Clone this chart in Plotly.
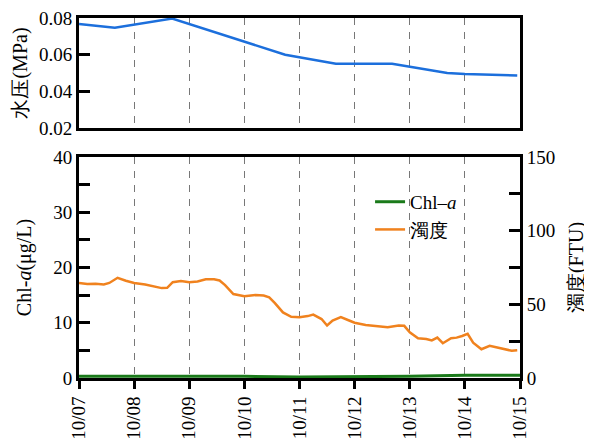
import plotly.graph_objects as go

# ---- data ----
tick_labels = ["10/07", "10/08", "10/09", "10/10", "10/11", "10/12", "10/13", "10/14", "10/15"]
tick_days = [0, 1, 2, 3, 4, 5, 6, 7, 8]

pressure_days = [0.0, 0.65, 1.69, 2.7, 3.74, 4.66, 5.68, 6.68, 7.0, 7.95]
pressure_mpa = [0.0767, 0.0747, 0.0797, 0.0700, 0.0600, 0.0550, 0.0550, 0.0500, 0.0495, 0.0487]

turb_days = [0.0, 0.15, 0.3, 0.45, 0.55, 0.7, 0.85, 1.0, 1.2, 1.4, 1.5, 1.6, 1.7, 1.85, 2.0, 2.15,
             2.3, 2.45, 2.55, 2.65, 2.8, 3.0, 3.2, 3.35, 3.45, 3.55, 3.7, 3.85, 4.0, 4.15, 4.25,
             4.4, 4.5, 4.6, 4.75, 4.9, 5.0, 5.2, 5.4, 5.6, 5.8, 5.9, 6.0, 6.15, 6.3, 6.4, 6.5,
             6.6, 6.75, 6.85, 6.95, 7.05, 7.15, 7.3, 7.45, 7.6, 7.75, 7.85, 7.95]
turb_ftu = [64.5, 63.8, 63.9, 63.5, 64.5, 68.0, 66.0, 64.5, 63.5, 62.0, 61.0, 61.2, 65.0, 65.8, 65.0, 65.5,
            67.0, 67.0, 66.2, 63.0, 57.0, 55.5, 56.3, 56.0, 54.8, 51.0, 44.5, 41.5, 41.3, 42.0, 43.0,
            40.0, 35.6, 39.0, 41.3, 39.0, 37.5, 36.0, 35.0, 34.5, 35.6, 35.4, 31.0, 27.0, 26.5, 25.5, 27.4,
            23.6, 27.0, 27.4, 28.5, 30.0, 24.0, 19.5, 21.8, 20.5, 19.5, 18.5, 18.8]

chl_days = [0.0, 1.0, 2.0, 3.0, 4.0, 5.0, 6.0, 7.0, 8.0]
chl_ugl = [0.3, 0.3, 0.4, 0.3, 0.2, 0.2, 0.3, 0.5, 0.5]

# ---- styling ----
BLUE = "#1c6fdc"
ORANGE = "#f0821e"
GREEN = "#1a7a1a"
FONT = "Liberation Serif"
FS = 19
TFS = 20

fig = go.Figure()
fig.add_trace(go.Scatter(x=pressure_days, y=pressure_mpa, mode="lines", xaxis="x2", yaxis="y3",
                         line=dict(color=BLUE, width=2.5), showlegend=False))
fig.add_trace(go.Scatter(x=chl_days, y=chl_ugl, mode="lines", xaxis="x", yaxis="y",
                         line=dict(color=GREEN, width=3), name="Chl–<i>a</i>"))
fig.add_trace(go.Scatter(x=turb_days, y=turb_ftu, mode="lines", xaxis="x", yaxis="y2",
                         line=dict(color=ORANGE, width=2.5), name="濁度"))

axis_common = dict(showline=True, linecolor="black", linewidth=3, zeroline=False, automargin=False,
                   ticklabeloverflow="allow",
                   tickfont=dict(family=FONT, size=FS, color="black"))
grid = dict(showgrid=True, gridcolor="#777", griddash="7px,7px", gridwidth=1)

fig.update_layout(
    width=584, height=430,
    margin=dict(l=71, r=72, t=10, b=60),
    paper_bgcolor="white", plot_bgcolor="white",
    font=dict(family=FONT, size=FS, color="black"),
    xaxis=dict(domain=[0, 1], anchor="y", range=[0, 8], tickvals=tick_days, ticktext=tick_labels,
               tickangle=-90, ticks="outside", ticklen=8, tickwidth=2.5, tickcolor="black",
               mirror=True, **grid, **axis_common),
    yaxis=dict(domain=[0, 0.614], anchor="x", range=[0, 40], tickvals=[0, 10, 20, 30, 40],
               ticks="inside", ticklen=11, tickwidth=3, tickcolor="black", showgrid=False,
               minor=dict(tickvals=[5, 15, 25, 35], ticks="inside", ticklen=11, tickwidth=3,
                          tickcolor="black", showgrid=False),
               title=dict(text="Chl-<i>a</i>(μg/L)", font=dict(family=FONT, size=TFS), standoff=17),
               **axis_common),
    yaxis2=dict(overlaying="y", side="right", anchor="x", range=[0, 150], tickvals=[0, 50, 100, 150],
                ticks="inside", ticklen=11, tickwidth=3, tickcolor="black", showgrid=False,
                minor=dict(tickvals=[25, 75, 125], ticks="inside", ticklen=11, tickwidth=3,
                           tickcolor="black", showgrid=False),
                title=dict(text="濁度(FTU)", font=dict(family=FONT, size=TFS), standoff=15),
                **axis_common),
    xaxis2=dict(domain=[0, 1], anchor="y3", range=[0, 8], tickvals=tick_days, showticklabels=False,
                ticks="", mirror=True, **grid, **axis_common),
    yaxis3=dict(domain=[0.6944, 1], anchor="x2", range=[0.02, 0.08],
                tickvals=[0.02, 0.04, 0.06, 0.08], ticktext=["0.02", "0.04", "0.06", "0.08"],
                ticks="inside", ticklen=11, tickwidth=3, tickcolor="black", showgrid=False,
                mirror=True,
                title=dict(text="水压(MPa)", font=dict(family=FONT, size=TFS), standoff=6),
                **axis_common),
    legend=dict(x=0.66, y=0.542, xanchor="left", yanchor="top", bgcolor="rgba(0,0,0,0)",
                font=dict(family=FONT, size=FS), itemwidth=30, tracegroupgap=0),
)

fig.write_html("out.html")
